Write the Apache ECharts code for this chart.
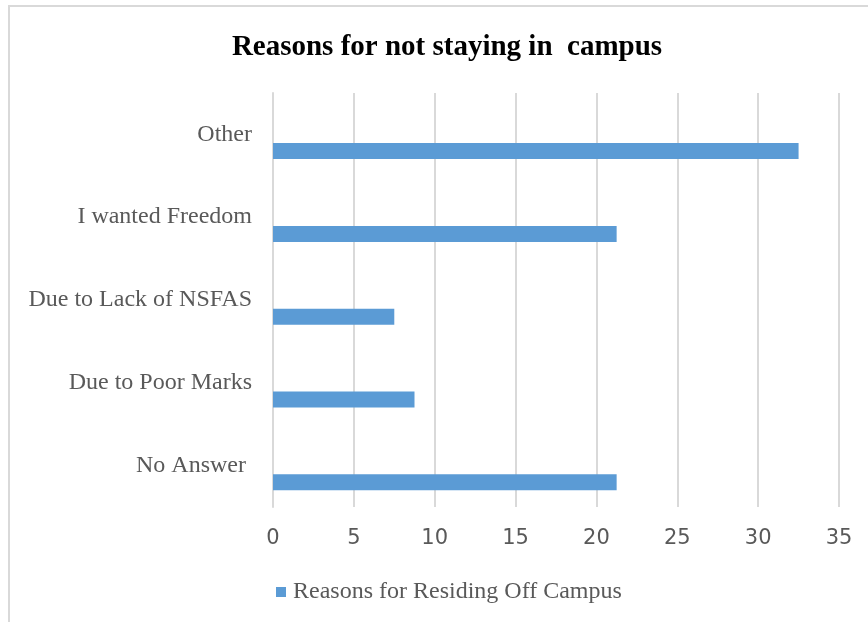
<!DOCTYPE html>
<html>
<head>
<meta charset="utf-8">
<script src="https://cdn.jsdelivr.net/npm/echarts@6/dist/echarts.min.js"></script>
<style>
  html, body { margin: 0; padding: 0; background: #fff; }
  #chart { width: 868px; height: 622px; }
</style>
</head>
<body>
<div id="chart"></div>
<script>
// Categories listed bottom-to-top (category axis on y runs upward)
const categories = ['No Answer ', 'Due to Poor Marks', 'Due to Lack of NSFAS', 'I wanted Freedom', 'Other'];
// Percentage of respondents per reason
const offCampusValues = [21.25, 8.75, 7.5, 21.25, 32.5];
const xTicks = { min: 0, max: 35, interval: 5 };
const seriesName = 'Reasons for Residing Off Campus';
const titleText = 'Reasons for not staying in  campus';

const chart = echarts.init(document.getElementById('chart'), null, { renderer: 'canvas' });

chart.setOption({
  animation: false,
  backgroundColor: '#ffffff',
  graphic: [{
    type: 'rect',
    shape: { x: 9, y: 6, width: 900, height: 700 },
    style: { fill: 'none', stroke: '#d9d9d9', lineWidth: 2 },
    silent: true
  }],
  title: {
    text: titleText,
    left: 442,
    top: 28,
    textAlign: 'center',
    textStyle: {
      fontFamily: 'Liberation Serif',
      fontWeight: 'bold',
      fontSize: 29,
      color: '#000000'
    }
  },
  legend: {
    data: [seriesName],
    bottom: 13,
    left: 271,
    itemWidth: 10,
    itemHeight: 10,
    itemGap: 6,
    icon: 'rect',
    textStyle: {
      fontFamily: 'Liberation Serif',
      fontSize: 24,
      color: '#595959',
      padding: [0, 0, 0, 2]
    }
  },
  grid: { left: 273, right: 29, top: 93, height: 414, containLabel: false },
  xAxis: {
    type: 'value',
    min: xTicks.min,
    max: xTicks.max,
    interval: xTicks.interval,
    axisLine: { show: false },
    axisTick: { show: false },
    axisLabel: {
      margin: 21,
      fontFamily: 'DejaVu Sans',
      fontSize: 21,
      color: '#595959'
    },
    splitLine: { show: true, lineStyle: { color: '#d9d9d9', width: 2 } }
  },
  yAxis: {
    type: 'category',
    data: categories,
    axisLine: { show: true, lineStyle: { color: '#d9d9d9', width: 2 } },
    axisTick: { show: false },
    axisLabel: {
      margin: 21,
      fontFamily: 'Liberation Serif',
      fontSize: 24,
      color: '#595959'
    },
    splitLine: { show: false }
  },
  series: [
    {
      name: 'spacer',
      type: 'bar',
      data: categories.map(() => null),
      barWidth: 16,
      barGap: '109%',
      itemStyle: { color: 'transparent' }
    },
    {
      name: seriesName,
      type: 'bar',
      data: offCampusValues,
      barWidth: 16,
      itemStyle: { color: '#5b9bd5' }
    }
  ]
});
</script>
</body>
</html>
